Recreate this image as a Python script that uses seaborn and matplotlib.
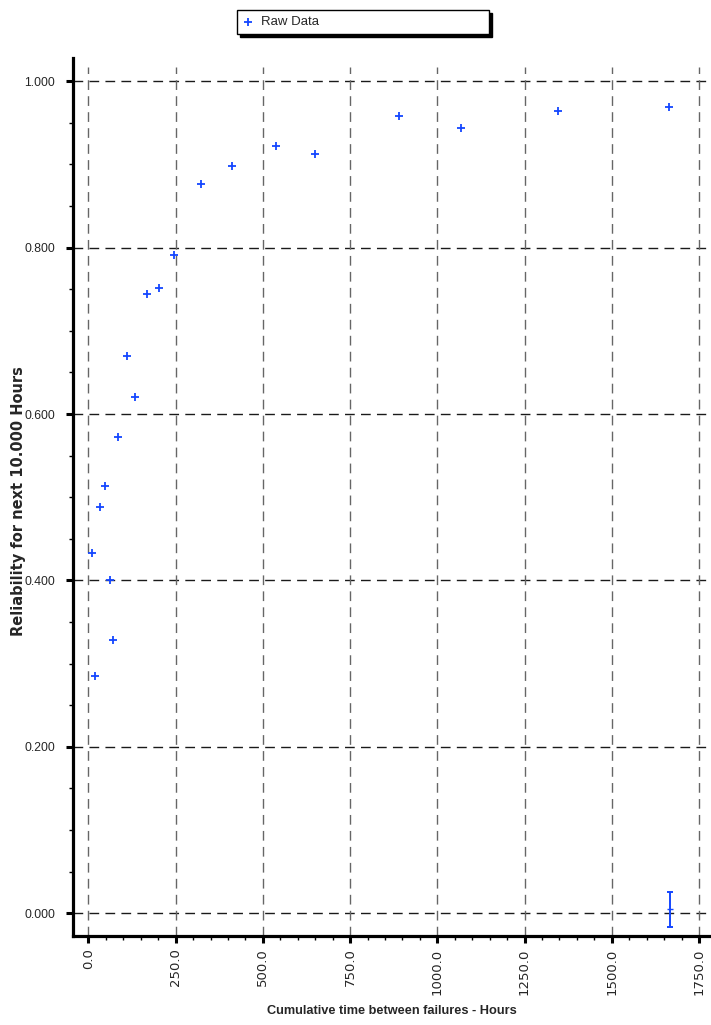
import matplotlib
matplotlib.use("Agg")
import matplotlib.pyplot as plt
from matplotlib import font_manager
from matplotlib.ticker import MultipleLocator, FormatStrFormatter
import seaborn as sns
import pandas as pd

# Cumulative time between failures (hours) and estimated reliability
cum_hours = [10.9, 19.5, 33.0, 47.3, 60.8, 69.4, 85.4, 110.4, 132.5, 166.9,
             201.3, 244.3, 321.7, 412.3, 536.7, 648.5, 891.0, 1068.0, 1345.0, 1665.0]
reliability = [0.433, 0.285, 0.488, 0.513, 0.401, 0.329, 0.572, 0.670, 0.621, 0.744,
               0.751, 0.791, 0.876, 0.898, 0.922, 0.913, 0.958, 0.944, 0.964, 0.969]

# Final interval estimate with its uncertainty band
ci_hours = [1668.0]
ci_value = [0.005]
ci_halfwidth = [0.021]

x_ticks = [0, 250, 500, 750, 1000, 1250, 1500, 1750]
y_ticks = [0.0, 0.2, 0.4, 0.6, 0.8, 1.0]

series_label = "Raw Data"
x_title = "Cumulative time between failures - Hours"
y_title = "Reliability for next 10.000 Hours"

blue = "#1446ff"

sns.set_style("white")
names = {f.name for f in font_manager.fontManager.ttflist}
narrow = "Liberation Sans Narrow" if "Liberation Sans Narrow" in names else "Liberation Sans"
plt.rcParams["font.family"] = [narrow, "DejaVu Sans"]

df = pd.DataFrame({"hours": cum_hours, "rel": reliability})

fig = plt.figure(figsize=(7.11, 10.25), dpi=100)
W, H = 711, 1025
ax = fig.add_axes([73 / W, (H - 936) / H, (W - 73) / W, (936 - 58) / H])

sns.scatterplot(data=df, x="hours", y="rel", marker="+", color=blue, s=36,
                linewidth=1.3, ax=ax, label=series_label, zorder=5)

ax.errorbar(ci_hours, ci_value, yerr=ci_halfwidth, fmt="_", ms=4, color=blue,
            ecolor=blue, elinewidth=1.4, capsize=2.5, capthick=1.4, zorder=5)

ax.set_xlim(-44.4, 1784.5)
ax.set_ylim(-0.0273, 1.028)

# Dashed grid: horizontal across the whole width, vertical stopping short of the top
for yv in y_ticks:
    ax.axhline(yv, color="0.1", lw=1.0, ls=(0, (7, 4.5)), zorder=1)
ytop = (1.0171 - ax.get_ylim()[0]) / (ax.get_ylim()[1] - ax.get_ylim()[0])
for xv in x_ticks:
    ax.axvline(xv, ymin=0, ymax=ytop, color="0.4", lw=1.0, ls=(0, (7, 4.5)), zorder=1)

ax.xaxis.set_major_locator(MultipleLocator(250))
ax.xaxis.set_minor_locator(MultipleLocator(50))
ax.yaxis.set_major_locator(MultipleLocator(0.2))
ax.yaxis.set_minor_locator(MultipleLocator(0.05))
ax.xaxis.set_major_formatter(FormatStrFormatter("%.1f"))
ax.yaxis.set_major_formatter(FormatStrFormatter("%.3f"))

for side in ("top", "right"):
    ax.spines[side].set_visible(False)
for side in ("left", "bottom"):
    ax.spines[side].set_linewidth(2.3)
    ax.spines[side].set_color("black")

ax.tick_params(axis="both", which="major", direction="out", length=5, width=2.2,
               color="black", bottom=True, left=True)
ax.tick_params(axis="both", which="minor", direction="out", length=3, width=1.0,
               color="black", bottom=True, left=True)
ax.tick_params(axis="x", which="major", pad=4, labelrotation=90, labelsize=9.5)
ax.tick_params(axis="y", which="major", pad=8, labelsize=8.8)
for lab in ax.get_xticklabels():
    lab.set_family("DejaVu Sans")
    lab.set_color("0.15")
for lab in ax.get_yticklabels():
    lab.set_color("0.15")

ax.set_xlabel(x_title, fontsize=9.2, fontweight="bold", labelpad=7)
ax.set_ylabel(y_title, fontsize=10.5, fontweight="bold", family="DejaVu Sans")
ax.yaxis.set_label_coords((26 - 73) / (W - 73), (936 - 501) / (936 - 58))

handles, labels = ax.get_legend_handles_labels()
ax.get_legend().remove()
fig.legend(handles, labels, loc="lower left",
           bbox_to_anchor=(237 / W, (H - 34) / H, 252 / W, 24 / H), mode="expand",
           frameon=True, fancybox=False, edgecolor="black", framealpha=1,
           shadow={"color": "black", "alpha": 1, "ox": 2.2, "oy": -2.2},
           handlelength=0.8, handletextpad=0.6, borderpad=0.45, borderaxespad=0,
           prop={"family": narrow, "size": 9.5})

fig.savefig("out.png", dpi=100)
